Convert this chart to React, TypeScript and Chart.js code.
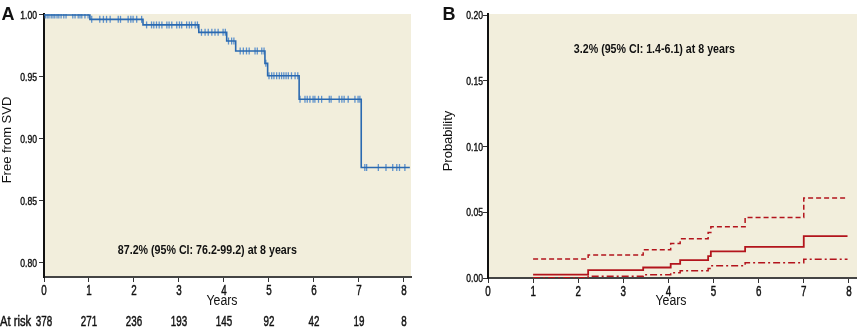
import React, { useEffect, useRef } from "react";
import { Chart, registerables } from "chart.js";
Chart.register(...registerables);

// ---------- data ----------
const yearTicks = [0, 1, 2, 3, 4, 5, 6, 7, 8];
const atRisk = [378, 271, 236, 193, 145, 92, 42, 19, 8];
const survTicks = [0.8, 0.85, 0.9, 0.95, 1.0];
const probTicks = [0, 0.05, 0.1, 0.15, 0.2];

// Kaplan-Meier freedom from SVD (step times & levels)
const kmTimes = [0, 1.02, 2.2, 3.44, 4.06, 4.26, 4.91, 4.97, 5.67, 7.05, 8.13];
const kmSurv = [1.0, 0.9965, 0.992, 0.986, 0.979, 0.971, 0.961, 0.951, 0.932, 0.877, 0.877];
// censoring times (years)
const censorTimes = [
  0.03, 0.07, 0.11, 0.16, 0.2, 0.24, 0.29, 0.33, 0.38, 0.44, 0.49, 0.64, 0.69, 0.76, 0.8, 0.84, 0.91, 0.98,
  1.06, 1.24, 1.32, 1.39, 1.47, 1.65, 1.7, 1.87, 1.93, 1.98, 2.06, 2.17,
  2.28, 2.39, 2.44, 2.5, 2.56, 2.62, 2.73, 2.78, 2.84, 2.95, 3.01, 3.06, 3.17, 3.23, 3.28, 3.36, 3.41,
  3.5, 3.58, 3.65, 3.73, 3.8, 3.87, 3.98, 4.03,
  4.1, 4.17, 4.22,
  4.36, 4.43, 4.5, 4.56, 4.69, 4.74, 4.84, 4.89,
  4.93,
  5.0, 5.06, 5.11, 5.17, 5.23, 5.28, 5.33, 5.38, 5.43, 5.5, 5.58, 5.64,
  5.69, 5.8, 5.85, 5.91, 5.98, 6.02, 6.1, 6.17, 6.34, 6.38, 6.56, 6.62, 6.67, 6.76, 6.91, 6.98, 7.02,
  7.13, 7.17, 7.43, 7.6, 7.75, 7.84, 7.9, 8.02,
];

// Cumulative incidence of SVD (estimate and 95% CI)
const cifTimes = [1.0, 2.22, 3.44, 4.05, 4.26, 4.88, 4.94, 5.7, 7.0, 7.97];
const cifEst = [0.0025, 0.006, 0.008, 0.0108, 0.0136, 0.0167, 0.0202, 0.0237, 0.0318, 0.0318];
const cifUpper = [0.0144, 0.0174, 0.0215, 0.0263, 0.0298, 0.0346, 0.0389, 0.046, 0.0608, 0.0608];
const cifLower = [0.0002, 0.0013, 0.0025, 0.004, 0.0055, 0.0073, 0.0093, 0.0116, 0.0142, 0.0142];

const textA = "87.2% (95% CI: 76.2-99.2) at 8 years";
const textB = "3.2% (95% CI: 1.4-6.1) at 8 years";

// ---------- styles ----------
const BEIGE = "#f2eedc";
const BLUE = "#2a69b0";
const BLUE_LIGHT = "#5e92cc";
const RED = "#b3141c";
const SANS = '"Liberation Sans", Arial, sans-serif';
const INK = "#111";

const survAt = (t: number) => {
  let v = kmSurv[0];
  for (let i = 0; i < kmTimes.length; i++) if (kmTimes[i] <= t) v = kmSurv[i];
  return v;
};

// draw horizontally condensed text (alphabetic baseline)
function drawText(
  ctx: CanvasRenderingContext2D,
  text: string,
  x: number,
  y: number,
  align: string,
  font: string,
  sx: number,
  stroke = 0
) {
  ctx.save();
  ctx.font = font;
  ctx.textAlign = "left";
  ctx.textBaseline = "alphabetic";
  const w = ctx.measureText(text).width * sx;
  const x0 = align === "center" ? x - w / 2 : align === "right" ? x - w : x;
  ctx.translate(x0, y);
  ctx.scale(sx, 1);
  ctx.fillStyle = INK;
  ctx.fillText(text, 0, 0);
  if (stroke > 0) {
    ctx.strokeStyle = INK;
    ctx.lineWidth = stroke;
    ctx.strokeText(text, 0, 0);
  }
  ctx.restore();
}

function drawTitleV(ctx: CanvasRenderingContext2D, text: string, cx: number, cy: number) {
  ctx.save();
  ctx.translate(cx, cy);
  ctx.rotate(-Math.PI / 2);
  ctx.font = `13px ${SANS}`;
  ctx.fillStyle = INK;
  ctx.textAlign = "center";
  ctx.textBaseline = "middle";
  ctx.fillText(text, 0, 0);
  ctx.restore();
}

const bgPlugin = {
  id: "bg",
  beforeDraw(chart: any) {
    const { ctx, chartArea } = chart;
    ctx.save();
    ctx.fillStyle = BEIGE;
    ctx.fillRect(chartArea.left, chartArea.top, chartArea.right - chartArea.left, chartArea.bottom - chartArea.top);
    ctx.restore();
  },
};

type PanelCfg = {
  letter: string;
  letterX: number;
  yTickVals: number[];
  yTickPad: number;
  yTitle: string;
  yTitleX: number;
  yTitleY: number;
  xTitleX: number;
  note: string;
  nx: number;
  ny: number;
  withRisk: boolean;
};

function makeTextPlugin(c: PanelCfg) {
  return {
    id: "txt" + c.letter,
    afterDraw(chart: any) {
      const { ctx, chartArea } = chart;
      const xs = chart.scales.x;
      const ys = chart.scales.y;
      ctx.save();
      ctx.fillStyle = INK;
      ctx.font = `bold 18px ${SANS}`;
      ctx.textAlign = "left";
      ctx.textBaseline = "alphabetic";
      ctx.fillText(c.letter, c.letterX, 20);
      ctx.restore();

      // x tick labels
      const xLabY = chartArea.bottom + 18;
      yearTicks.forEach((v) => {
        drawText(ctx, String(v), xs.getPixelForValue(v), xLabY, "center", `14px ${SANS}`, 0.7, 0.45);
      });
      // y tick labels
      c.yTickVals.forEach((v) => {
        drawText(ctx, v.toFixed(2), chartArea.left - 5 - c.yTickPad, ys.getPixelForValue(v) + 4, "right", `11px ${SANS}`, 0.78, 0.4);
      });
      // axis titles
      drawText(ctx, "Years", c.xTitleX, 305, "center", `14px ${SANS}`, 0.88);
      drawTitleV(ctx, c.yTitle, c.yTitleX, c.yTitleY);
      // annotation
      drawText(ctx, c.note, xs.getPixelForValue(c.nx), ys.getPixelForValue(c.ny), "center", `bold 13px ${SANS}`, 0.82);
      if (c.withRisk) {
        drawText(ctx, "At risk", 0, 326, "left", `14px ${SANS}`, 0.8, 0.45);
        atRisk.forEach((n, i) => {
          drawText(ctx, String(n), xs.getPixelForValue(yearTicks[i]), 326, "center", `14px ${SANS}`, 0.7, 0.45);
        });
      }
    },
  };
}

function axisCommon(tickVals: number[]) {
  return {
    type: "linear" as const,
    afterBuildTicks: (s: any) => {
      s.ticks = tickVals.map((v) => ({ value: v }));
    },
    grid: { display: true, drawOnChartArea: false, drawTicks: true, tickLength: 5, color: "#333", lineWidth: 1 },
    ticks: { display: false, autoSkip: false, maxRotation: 0 },
    title: { display: false },
  };
}

function ChartA() {
  const ref = useRef<HTMLCanvasElement>(null);
  useEffect(() => {
    const kmData = kmTimes.map((t, i) => ({ x: t, y: kmSurv[i] }));
    const censData = censorTimes.map((t) => ({ x: t, y: survAt(t) }));
    const chart = new Chart(ref.current!, {
      type: "line",
      data: {
        datasets: [
          {
            data: kmData,
            borderColor: BLUE,
            borderWidth: 1.6,
            stepped: "before",
            pointRadius: 0,
            fill: false,
          },
          {
            data: censData,
            showLine: false,
            pointStyle: "line",
            rotation: 90,
            pointRadius: 3.5,
            pointBorderWidth: 1.3,
            pointBorderColor: BLUE_LIGHT,
            borderColor: BLUE_LIGHT,
          } as any,
        ],
      },
      options: {
        responsive: false,
        animation: false,
        events: [],
        layout: { padding: { left: 0, right: 19, top: 14, bottom: 0 } },
        plugins: { legend: { display: false }, tooltip: { enabled: false } },
        scales: {
          x: {
            ...axisCommon(yearTicks),
            min: 0,
            max: 8.156,
            afterFit: (s: any) => {
              s.height = 53;
            },
            border: { display: true, color: "#444", width: 2 },
          },
          y: {
            ...axisCommon(survTicks),
            min: 0.7887,
            max: 1.0008,
            afterFit: (s: any) => {
              s.width = 44;
            },
            border: { display: true, color: INK, width: 2 },
          },
        },
      } as any,
      plugins: [
        bgPlugin,
        makeTextPlugin({
          letter: "A",
          letterX: 1.5,
          yTickVals: survTicks,
          yTickPad: 2,
          yTitle: "Free from SVD",
          yTitleX: 7,
          yTitleY: 140,
          xTitleX: 222,
          note: textA,
          nx: 3.63,
          ny: 0.8073,
          withRisk: true,
        }),
      ],
    });
    return () => chart.destroy();
  }, []);
  return <canvas ref={ref} width={430} height={330} style={{ position: "absolute", left: 0, top: 0 }} />;
}

function ChartB() {
  const ref = useRef<HTMLCanvasElement>(null);
  useEffect(() => {
    const mk = (vals: number[]) => cifTimes.map((t, i) => ({ x: t, y: vals[i] }));
    const chart = new Chart(ref.current!, {
      type: "line",
      data: {
        datasets: [
          { data: mk(cifEst), borderColor: RED, borderWidth: 1.8, stepped: "before", pointRadius: 0, fill: false },
          { data: mk(cifUpper), borderColor: RED, borderWidth: 1.5, borderDash: [5, 3], stepped: "before", pointRadius: 0, fill: false },
          { data: mk(cifLower), borderColor: RED, borderWidth: 1.5, borderDash: [7, 3, 2, 3], stepped: "before", pointRadius: 0, fill: false },
        ],
      },
      options: {
        responsive: false,
        animation: false,
        events: [],
        layout: { padding: { left: 0, right: 0, top: 14, bottom: 0 } },
        plugins: { legend: { display: false }, tooltip: { enabled: false } },
        scales: {
          x: {
            ...axisCommon(yearTicks),
            min: 0,
            max: 8.18,
            afterFit: (s: any) => {
              s.height = 52;
            },
            border: { display: true, color: "#444", width: 2 },
          },
          y: {
            ...axisCommon(probTicks),
            min: 0,
            max: 0.2008,
            afterFit: (s: any) => {
              s.width = 58;
            },
            border: { display: true, color: INK, width: 2 },
          },
        },
      } as any,
      plugins: [
        bgPlugin,
        makeTextPlugin({
          letter: "B",
          letterX: 12.5,
          yTickVals: probTicks,
          yTickPad: 0,
          yTitle: "Probability",
          yTitleX: 18.5,
          yTitleY: 141,
          xTitleX: 241,
          note: textB,
          nx: 3.69,
          ny: 0.1712,
          withRisk: false,
        }),
      ],
    });
    return () => chart.destroy();
  }, []);
  return <canvas ref={ref} width={427} height={330} style={{ position: "absolute", left: 430, top: 0 }} />;
}

export default function App() {
  return (
    <div style={{ position: "absolute", left: 0, top: 0, width: 857, height: 330, background: "#fff" }}>
      <ChartA />
      <ChartB />
    </div>
  );
}
